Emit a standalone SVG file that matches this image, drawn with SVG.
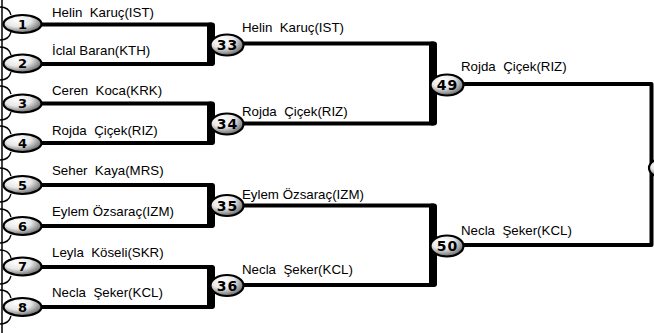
<svg xmlns="http://www.w3.org/2000/svg" width="654" height="333" viewBox="0 0 654 333">
<defs>
<radialGradient id="g" cx="0.4" cy="0.35" r="0.7" fx="0.35" fy="0.25">
<stop offset="0" stop-color="#ffffff"/>
<stop offset="0.5" stop-color="#e8e8e8"/>
<stop offset="1" stop-color="#5a5a5a"/>
</radialGradient>
</defs>
<style>
.ln{fill:none;stroke:#000;stroke-width:4;stroke-linejoin:round}
.bar{fill:#000}
.ear{fill:none;stroke:#000;stroke-width:1.3}
.b{fill:url(#g);stroke:#000;stroke-width:2.2}
.d{font-family:"DejaVu Sans",sans-serif;font-weight:bold;fill:#000;text-anchor:middle}
.d1{font-size:13px}
.d2{font-size:14px;letter-spacing:1px}
.t{font-family:"Liberation Sans",Arial,sans-serif;font-size:13.3px;fill:#000}
</style>
<rect width="654" height="333" fill="#fff"/>
<g id="connectors">
<line x1="2" y1="0" x2="2" y2="333" stroke="#000" stroke-width="1.5"/>
<path class="ln" d="M40,24.5 H211 V64 H40"/>
<path class="ln" d="M40,103.5 H211 V143 H40"/>
<path class="ln" d="M40,185 H211 V226 H40"/>
<path class="ln" d="M40,267 H211 V307 H40"/>
<rect class="bar" x="207" y="22.5" width="8" height="43.5" rx="3"/>
<rect class="bar" x="207" y="101.5" width="8" height="43.5" rx="3"/>
<rect class="bar" x="207" y="183" width="8" height="45" rx="3"/>
<rect class="bar" x="207" y="265" width="8" height="44" rx="3"/>
<path class="ln" d="M240,43.5 H433 V123.5 H240"/>
<path class="ln" d="M240,205.5 H433 V285 H240"/>
<rect class="bar" x="429" y="41.5" width="8" height="84" rx="3"/>
<rect class="bar" x="429" y="203.5" width="8" height="83.5" rx="3"/>
<path class="ln" d="M460,84 H651.5 V245 H460"/>
</g>
<g id="n1"><path class="ear" d="M0,7 q9,0 11,8 M0,40 q9,0 11,-8"/><ellipse class="b" cx="22.5" cy="24" rx="19" ry="9"/><text class="d d1" x="22.5" y="28.5">1</text><text class="t" x="52" y="16.5" xml:space="preserve">Helin  Karuç(IST)</text></g>
<g id="n2"><path class="ear" d="M0,47 q9,0 11,8 M0,80 q9,0 11,-8"/><ellipse class="b" cx="22.5" cy="63.5" rx="19" ry="9"/><text class="d d1" x="22.5" y="68">2</text><text class="t" x="52" y="55" xml:space="preserve">İclal Baran(KTH)</text></g>
<g id="n3"><path class="ear" d="M0,86 q9,0 11,8 M0,120 q9,0 11,-8"/><ellipse class="b" cx="22.5" cy="103.5" rx="19" ry="9"/><text class="d d1" x="22.5" y="108">3</text><text class="t" x="52" y="95" xml:space="preserve">Ceren  Koca(KRK)</text></g>
<g id="n4"><path class="ear" d="M0,126 q9,0 11,8 M0,160 q9,0 11,-8"/><ellipse class="b" cx="22.5" cy="143" rx="19" ry="9"/><text class="d d1" x="22.5" y="147.5">4</text><text class="t" x="52" y="134.5" xml:space="preserve">Rojda  Çiçek(RIZ)</text></g>
<g id="n5"><path class="ear" d="M0,168 q9,0 11,8 M0,202 q9,0 11,-8"/><ellipse class="b" cx="22.5" cy="185" rx="19" ry="9"/><text class="d d1" x="22.5" y="189.5">5</text><text class="t" x="52" y="175" xml:space="preserve">Seher  Kaya(MRS)</text></g>
<g id="n6"><path class="ear" d="M0,209 q9,0 11,8 M0,243 q9,0 11,-8"/><ellipse class="b" cx="22.5" cy="226" rx="19" ry="9"/><text class="d d1" x="22.5" y="230.5">6</text><text class="t" x="52" y="216" xml:space="preserve">Eylem Özsaraç(IZM)</text></g>
<g id="n7"><path class="ear" d="M0,250 q9,0 11,8 M0,284 q9,0 11,-8"/><ellipse class="b" cx="22.5" cy="266.5" rx="19" ry="9"/><text class="d d1" x="22.5" y="271">7</text><text class="t" x="52" y="257" xml:space="preserve">Leyla  Köseli(SKR)</text></g>
<g id="n8"><path class="ear" d="M0,290 q9,0 11,8 M0,324 q9,0 11,-8"/><ellipse class="b" cx="22.5" cy="307" rx="19" ry="9"/><text class="d d1" x="22.5" y="311.5">8</text><text class="t" x="52" y="297" xml:space="preserve">Necla  Şeker(KCL)</text></g>
<g id="n33"><ellipse class="b" cx="227" cy="45" rx="16.5" ry="10.5"/><text class="d d2" x="227.5" y="50">33</text><text class="t" x="242" y="32" xml:space="preserve">Helin  Karuç(IST)</text></g>
<g id="n34"><ellipse class="b" cx="227" cy="124" rx="16.5" ry="10.5"/><text class="d d2" x="227.5" y="129">34</text><text class="t" x="242" y="116" xml:space="preserve">Rojda  Çiçek(RIZ)</text></g>
<g id="n35"><ellipse class="b" cx="227" cy="205.5" rx="16.5" ry="10.5"/><text class="d d2" x="227.5" y="210.5">35</text><text class="t" x="242" y="199" xml:space="preserve">Eylem Özsaraç(IZM)</text></g>
<g id="n36"><ellipse class="b" cx="227" cy="285.5" rx="16.5" ry="10.5"/><text class="d d2" x="227.5" y="290.5">36</text><text class="t" x="242" y="274" xml:space="preserve">Necla  Şeker(KCL)</text></g>
<g id="n49"><ellipse class="b" cx="447" cy="85" rx="16.5" ry="10.5"/><text class="d d2" x="447.5" y="90">49</text><text class="t" x="461" y="70.5" xml:space="preserve">Rojda  Çiçek(RIZ)</text></g>
<g id="n50"><ellipse class="b" cx="447" cy="246" rx="16.5" ry="10.5"/><text class="d d2" x="447.5" y="251">50</text><text class="t" x="461" y="235" xml:space="preserve">Necla  Şeker(KCL)</text></g>
<g id="n57"><ellipse class="b" cx="665" cy="168" rx="16" ry="10"/></g>
</svg>
